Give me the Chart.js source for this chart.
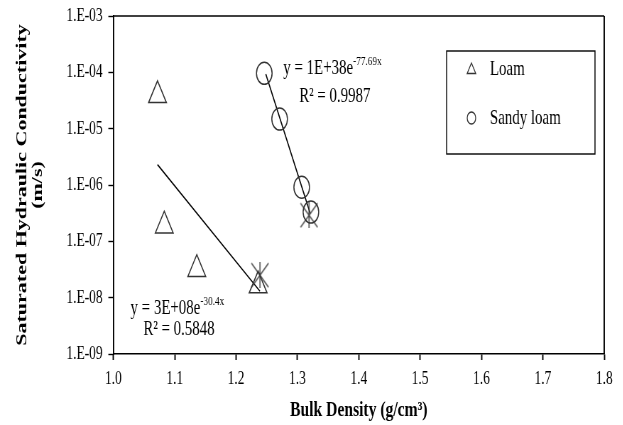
<!DOCTYPE html>
<html>
<head>
<meta charset="utf-8">
<script src="https://cdn.jsdelivr.net/npm/chart.js@4/dist/chart.umd.min.js"></script>
<style>
  html, body { margin: 0; padding: 0; background: #fff; overflow: hidden; }
  #wrap { width: 877px; height: 425px; transform: scaleX(0.71); transform-origin: 0 0; }
</style>
</head>
<body>
<div id="wrap"><canvas id="ksatChart" width="877" height="425"></canvas></div>
<script>
// data
var seriesNames = ['Loam', 'Sandy loam'];
var loamX = [1.072, 1.083, 1.136, 1.236];
var loamY = [3.9e-5, 1.9e-7, 3.2e-8, 1.64e-8];
var sandyX = [1.246, 1.271, 1.307, 1.322];
var sandyY = [9.6e-5, 1.48e-5, 9.1e-7, 3.3e-7];
var outlierX = [1.239, 1.319];
var outlierY = [2.5e-8, 2.9e-7];
var loamFitX = [1.072, 1.239];
var loamFitY = [2.3e-6, 1.3e-8];
var sandyFitX = [1.2485, 1.321];
var sandyFitY = [9.3e-5, 3.1e-7];
var yTicks = [1e-9, 1e-8, 1e-7, 1e-6, 1e-5, 1e-4, 1e-3];

// trendline labels (anchor in data units)
var eqMain = ['y = 3E+08e', 'y = 1E+38e'];
var eqExp = ['-30.4x', '-77.69x'];
var eqR2 = ['R\u00B2 = 0.5848', 'R\u00B2 = 0.9987'];
var eqAnchorX = [1.028, 1.277];
var eqAnchorY = [6.5e-9, 1.15e-4];
var r2AnchorX = [1.049, 1.303];
var r2AnchorY = [2.77e-9, 3.8e-5];

function pts(xs, ys) {
  return xs.map(function (x, i) { return { x: x, y: ys[i] }; });
}

// asterisk marker (x with a vertical stroke)
var star = document.createElement('canvas');
star.width = 26; star.height = 26;
var sc = star.getContext('2d');
sc.strokeStyle = '#444';
sc.lineWidth = 1.5;
sc.beginPath();
sc.moveTo(1, 1); sc.lineTo(25, 25);
sc.moveTo(25, 1); sc.lineTo(1, 25);
sc.moveTo(13, 0); sc.lineTo(13, 26);
sc.stroke();

var serif = "'Liberation Serif', 'Times New Roman', serif";

var extras = {
  id: 'extras',
  afterDatasetsDraw: function (chart) {
    var ctx = chart.ctx, a = chart.chartArea;
    var xs = chart.scales.x, ys = chart.scales.y;
    ctx.save();
    // plot frame (top + right)
    ctx.strokeStyle = '#000';
    ctx.lineWidth = 1.4;
    ctx.beginPath();
    ctx.moveTo(a.left, a.top); ctx.lineTo(a.right, a.top);
    ctx.stroke();
    ctx.lineWidth = 1.9;
    ctx.beginPath();
    ctx.moveTo(a.right, a.top); ctx.lineTo(a.right, a.bottom);
    ctx.stroke();

    // equations
    ctx.fillStyle = '#000';
    ctx.textBaseline = 'middle';
    ctx.textAlign = 'left';
    for (var i = 0; i < eqMain.length; i++) {
      var px = xs.getPixelForValue(eqAnchorX[i]);
      var py = ys.getPixelForValue(eqAnchorY[i]);
      ctx.font = '21px ' + serif;
      ctx.fillText(eqMain[i], px, py);
      var w = ctx.measureText(eqMain[i]).width;
      ctx.font = '13px ' + serif;
      ctx.fillText(eqExp[i], px + w, py - 7);
      ctx.font = '21px ' + serif;
      ctx.fillText(eqR2[i], xs.getPixelForValue(r2AnchorX[i]), ys.getPixelForValue(r2AnchorY[i]));
    }

    // legend box
    var bx = 629, by = 51, bw = 209, bh = 103;
    ctx.lineWidth = 1.4;
    ctx.strokeRect(bx, by, bw, bh);
    var styles = ['triangle', 'circle'];
    var rows = [69, 118];
    for (var j = 0; j < seriesNames.length; j++) {
      ctx.strokeStyle = '#333';
      ctx.fillStyle = 'rgba(0,0,0,0)';
      ctx.lineWidth = 1.3;
      Chart.helpers.drawPoint(ctx, { pointStyle: styles[j], radius: j === 0 ? 7 : 6, borderWidth: 1.3, rotation: 0 }, 664, rows[j] + (j === 0 ? 1 : 0));
      ctx.fillStyle = '#000';
      ctx.font = '21px ' + serif;
      ctx.fillText(seriesNames[j], 690, rows[j]);
    }
    ctx.restore();
  }
};

var ctx = document.getElementById('ksatChart');
var chart = new Chart(ctx, {
  type: 'scatter',
  data: {
    datasets: [{
      label: seriesNames[0],
      data: pts(loamX, loamY),
      pointStyle: 'triangle',
      pointRadius: 14.5,
      borderColor: '#333',
      backgroundColor: 'rgba(0,0,0,0)',
      borderWidth: 1.5
    }, {
      label: seriesNames[1],
      data: pts(sandyX, sandyY),
      pointStyle: 'circle',
      pointRadius: 11,
      borderColor: '#333',
      backgroundColor: 'rgba(0,0,0,0)',
      borderWidth: 1.5
    }, {
      label: 'excluded',
      data: pts(outlierX, outlierY),
      pointStyle: star,
      pointRadius: 13
    }, {
      label: 'Loam fit',
      data: pts(loamFitX, loamFitY),
      showLine: true,
      pointRadius: 0,
      borderColor: '#000',
      borderWidth: 1.5
    }, {
      label: 'Sandy loam fit',
      data: pts(sandyFitX, sandyFitY),
      showLine: true,
      pointRadius: 0,
      borderColor: '#000',
      borderWidth: 1.5
    }]
  },
  options: {
    responsive: false,
    animation: false,
    layout: {
      padding: { left: 0, right: 26, top: 15, bottom: 0 }
    },
    plugins: {
      legend: { display: false },
      tooltip: { enabled: false }
    },
    scales: {
      x: {
        type: 'linear',
        min: 1.0,
        max: 1.8,
        ticks: {
          stepSize: 0.1,
          color: '#000',
          font: { family: serif, size: 19 },
          padding: 8,
          maxRotation: 0,
          callback: function (v) { return Number(v).toFixed(1); }
        },
        grid: { drawOnChartArea: false, tickLength: 6, tickColor: '#000', tickWidth: 1.9 },
        border: { color: '#000', width: 1.4 },
        title: {
          display: true,
          text: 'Bulk Density (g/cm\u00B3)',
          color: '#000',
          font: { family: serif, size: 22, weight: 'bold' },
          padding: { top: 0, bottom: 1 }
        },
        afterFit: function (scale) { scale.height = 71; }
      },
      y: {
        type: 'logarithmic',
        min: 1e-9,
        max: 1e-3,
        afterBuildTicks: function (scale) {
          scale.ticks = yTicks.map(function (v) { return { value: v }; });
        },
        ticks: {
          color: '#000',
          font: { family: serif, size: 19 },
          padding: 8,
          callback: function (v) {
            var e = Math.round(Math.log10(v));
            var s = e < 0 ? '-' : '+';
            var n = Math.abs(e);
            return '1.E' + s + (n < 10 ? '0' + n : n);
          }
        },
        grid: { drawOnChartArea: false, tickLength: 7, tickColor: '#000', tickWidth: 1.4 },
        border: { color: '#000', width: 1.9 },
        title: {
          display: true,
          text: ['Saturated Hydraulic Conductivity', '(m/s)'],
          color: '#000',
          font: { family: serif, size: 22, weight: 'bold', lineHeight: 1.02 },
          padding: { top: 20, bottom: 0 }
        },
        afterFit: function (scale) {
          scale.width = 159.6;
          scale.paddingTop = 0;
        }
      }
    }
  },
  plugins: [extras]
});
</script>
</body>
</html>
